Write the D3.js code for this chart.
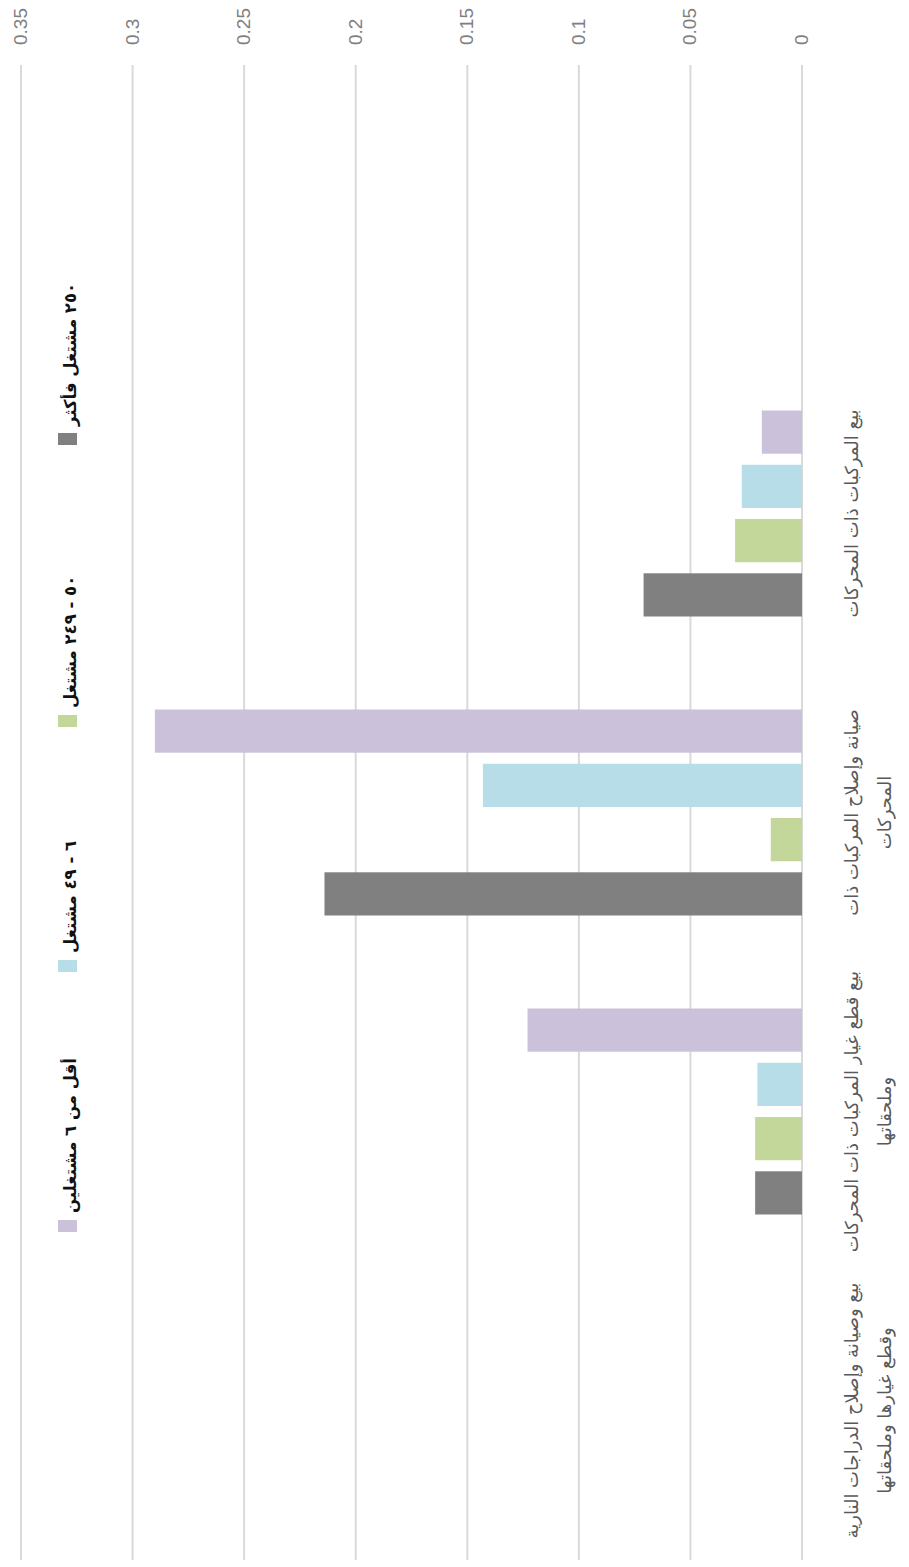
<!DOCTYPE html>
<html>
<head>
<meta charset="utf-8">
<script src="https://cdn.jsdelivr.net/npm/d3@7"></script>
<style>
  html, body { margin: 0; padding: 0; background: #fff; }
  svg { display: block; }
</style>
</head>
<body>
<svg id="chart" width="909" height="1567"></svg>
<script>
// ---- data ----
const categories = [
  "بيع المركبات ذات المحركات",
  "صيانة وإصلاح المركبات ذات المحركات",
  "بيع قطع غيار المركبات ذات المحركات وملحقاتها",
  "بيع وصيانة وإصلاح الدراجات النارية وقطع غيارها وملحقاتها"
];
const categoryLines = [
  ["بيع المركبات ذات المحركات"],
  ["صيانة وإصلاح المركبات ذات", "المحركات"],
  ["بيع قطع غيار المركبات ذات المحركات", "وملحقاتها"],
  ["بيع وصيانة وإصلاح الدراجات النارية", "وقطع غيارها وملحقاتها"]
];
const seriesNames = ["أقل من ٦ مشتغلين", "٦ - ٤٩ مشتغل", "٥٠ - ٢٤٩ مشتغل", "٢٥٠ مشتغل فأكثر"];
const seriesLess6   = [0.018, 0.290, 0.123, 0];
const series6to49   = [0.027, 0.143, 0.020, 0];
const series50to249 = [0.030, 0.014, 0.021, 0];
const series250plus = [0.071, 0.214, 0.021, 0];
const tickValues = [0, 0.05, 0.1, 0.15, 0.2, 0.25, 0.3, 0.35];
const colors = ["#cbc1db", "#b7dde8", "#c4d79b", "#808080"];

const seriesValues = [seriesLess6, series6to49, series50to249, series250plus];

// ---- layout (screen coords; chart is rotated -90deg) ----
const svg = d3.select("#chart");
const x = d3.scaleLinear().domain([0, 0.35]).range([802, 21]);
const plotTop = 65, plotBottom = 1560;
const step = (plotBottom - plotTop) / 5;
const y0 = d3.scaleBand().domain(categories).range([plotTop + step, plotBottom])
  .paddingInner(0.311).paddingOuter(0.1555);
const y1 = d3.scaleBand().domain(d3.range(seriesNames.length)).range([0, y0.bandwidth()])
  .paddingInner(0.2037).paddingOuter(0);

// gridlines
svg.append("g").selectAll("line").data(tickValues).join("line")
  .attr("x1", d => x(d)).attr("x2", d => x(d))
  .attr("y1", plotTop).attr("y2", plotBottom)
  .attr("stroke", "#d9d9d9").attr("stroke-width", 2);

// tick labels
svg.append("g").selectAll("text").data(tickValues).join("text")
  .attr("transform", d => `translate(${x(d) + 6},45) rotate(-90)`)
  .attr("text-anchor", "start")
  .attr("font-family", "Liberation Sans, Arial, sans-serif")
  .attr("font-size", 19)
  .attr("fill", "#7f7f7f")
  .text(d => d3.format("~g")(d));

// bars
const groups = svg.append("g").selectAll("g").data(categories).join("g")
  .attr("transform", c => `translate(0,${y0(c)})`);
groups.selectAll("rect")
  .data((c, ci) => seriesValues.map((s, si) => ({si, v: s[ci]})))
  .join("rect")
  .attr("x", d => x(d.v))
  .attr("y", d => y1(d.si))
  .attr("width", d => x(0) - x(d.v))
  .attr("height", y1.bandwidth())
  .attr("fill", d => colors[d.si]);

// category labels
const catG = svg.append("g").selectAll("text").data(categories).join("text")
  .attr("transform", c => `translate(858,${y0(c) + y0.bandwidth() / 2}) rotate(-90)`)
  .attr("text-anchor", "middle")
  .attr("font-family", "DejaVu Sans, sans-serif")
  .attr("font-size", 18)
  .attr("fill", "#595959");
catG.each(function (c, i) {
  const t = d3.select(this);
  categoryLines[i].forEach((ln, li) => {
    t.append("tspan").attr("x", 0).attr("y", li * 33).text(ln);
  });
});
// keep labels inside the page (shift up if they overflow bottom)
catG.each(function (c) {
  const node = this;
  let maxW = 0;
  d3.select(node).selectAll("tspan").each(function () {
    maxW = Math.max(maxW, this.getComputedTextLength());
  });
  let cy = y0(c) + y0.bandwidth() / 2;
  const limit = plotBottom + 2;
  if (cy + maxW / 2 > limit) cy = limit - maxW / 2;
  d3.select(node).attr("transform", `translate(858,${cy}) rotate(-90)`);
});

// legend (slots laid out bottom-to-top)
const legendSlotBottoms = [1232, 972, 727, 445];
const legend = svg.append("g");
seriesNames.forEach((name, i) => {
  const b = legendSlotBottoms[i];
  legend.append("rect")
    .attr("x", 58).attr("y", b - 12)
    .attr("width", 19).attr("height", 12)
    .attr("fill", colors[i]);
  legend.append("text")
    .attr("transform", `translate(76,${b - 19}) rotate(-90)`)
    .attr("text-anchor", "start")
    .attr("font-family", "DejaVu Sans, sans-serif")
    .attr("font-weight", "bold")
    .attr("font-size", 16.5)
    .attr("fill", "#111")
    .text(name);
});
</script>
</body>
</html>
